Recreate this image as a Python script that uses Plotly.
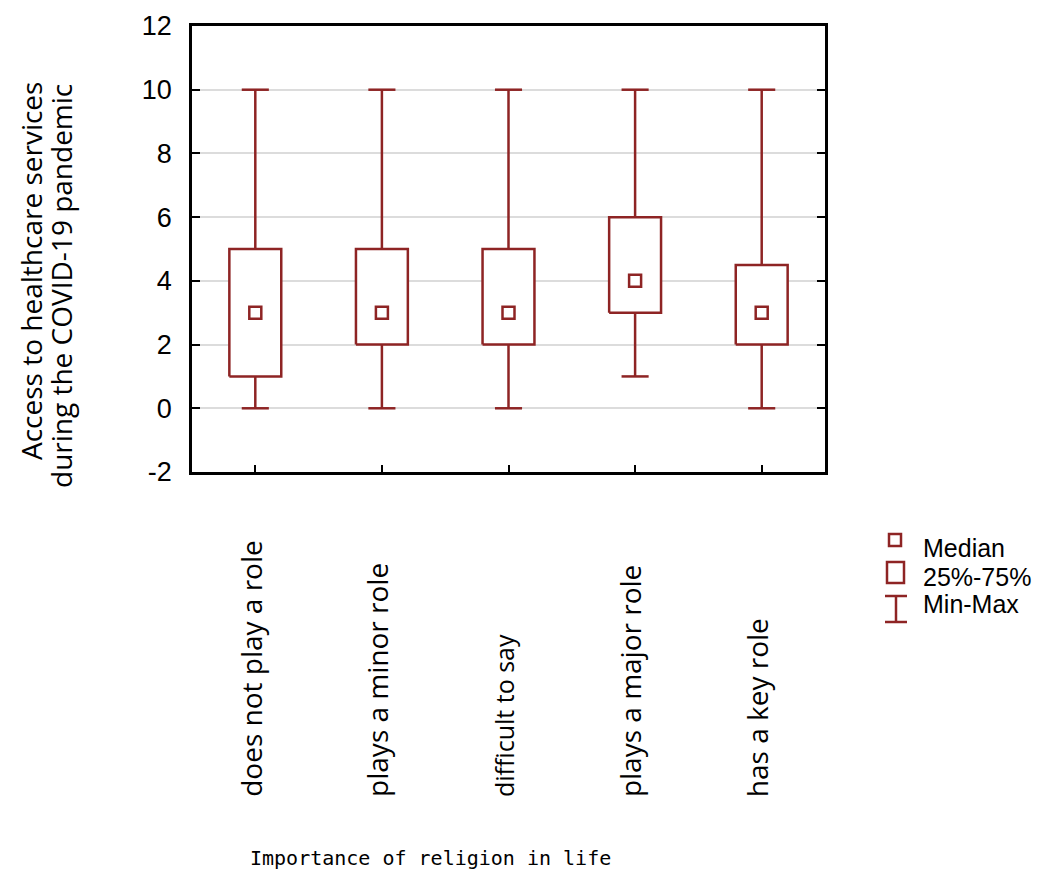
import plotly.graph_objects as go

# Box summary per group
categories = ["does not play a role", "plays a minor role", "difficult to say",
              "plays a major role", "has a key role"]
mins = [0, 0, 0, 1, 0]
q1s = [1, 2, 2, 3, 2]
medians = [3, 3, 3, 4, 3]
q3s = [5, 5, 5, 6, 4.5]
maxs = [10, 10, 10, 10, 10]
y_ticks = [-2, 0, 2, 4, 6, 8, 10, 12]
y_tick_text = ["-2", "0", "2", "4", "6", "8", "10", "12"]

RED = "#8E2424"
LW = 2.5
HALF_BOX = 0.205
HALF_CAP = 0.107

xs = list(range(len(categories)))

# Rectangles for the interquartile range
bx, by = [], []
for i, a, b in zip(xs, q1s, q3s):
    bx += [i - HALF_BOX, i + HALF_BOX, i + HALF_BOX, i - HALF_BOX, i - HALF_BOX, None]
    by += [a, a, b, b, a, None]

# Whiskers with end caps
wx, wy = [], []
for i, lo, a, b, hi in zip(xs, mins, q1s, q3s, maxs):
    wx += [i, i, None, i - HALF_CAP, i + HALF_CAP, None,
           i, i, None, i - HALF_CAP, i + HALF_CAP, None]
    wy += [b, hi, None, hi, hi, None, a, lo, None, lo, lo, None]

fig = go.Figure()
fig.add_trace(go.Scatter(x=wx, y=wy, mode="lines",
                         line=dict(color=RED, width=LW), hoverinfo="skip",
                         showlegend=False))
fig.add_trace(go.Scatter(x=bx, y=by, mode="lines", fill="toself",
                         fillcolor="white",
                         line=dict(color=RED, width=LW), hoverinfo="skip",
                         showlegend=False))
fig.add_trace(go.Scatter(x=xs, y=medians, mode="markers",
                         marker=dict(symbol="square-open", size=12,
                                     color=RED, line=dict(color=RED, width=LW)),
                         showlegend=False))

L, R, T, B = 192, 228, 26, 402
W, H = 1053, 874
pw, ph = W - L - R, H - T - B


def px(x):
    return (x - L) / pw


def py(y):
    return (H - B - y) / ph


annotations = []
# Rotated category labels, reading upward from a common baseline
for i, name in enumerate(categories):
    small = name == "difficult to say"
    annotations.append(dict(
        x=i, xref="x", y=py(799), yref="paper", text=name, textangle=-90,
        showarrow=False, xanchor="center", yanchor="bottom", xshift=-5,
        font=dict(family="Open Sans", size=25 if small else 28, color="black")))

# Axis titles
annotations.append(dict(
    x=px(430), y=py(858), xref="paper", yref="paper",
    text="Importance of religion in life", showarrow=False,
    xanchor="center", yanchor="middle",
    font=dict(family="DejaVu Sans Mono", size=20, color="black")))
for line, xc, yc in [("Access to healthcare services", 31, 271),
                     ("during the COVID-19 pandemic", 61, 286)]:
    annotations.append(dict(
        x=px(xc), y=py(yc), xref="paper", yref="paper",
        text=line, textangle=-90, showarrow=False,
        xanchor="center", yanchor="middle",
        font=dict(family="Open Sans", size=28, color="black")))

# Legend entries
for label, yc in [("Median", 548), ("25%-75%", 577), ("Min-Max", 604)]:
    annotations.append(dict(
        x=px(921), y=py(yc), xref="paper", yref="paper", text=label,
        showarrow=False, xanchor="left", yanchor="middle",
        font=dict(family="Liberation Sans", size=25, color="black")))

shape_line = dict(color=RED, width=LW)
shapes = [
    dict(type="rect", xref="paper", yref="paper",
         x0=px(889), x1=px(901), y0=py(546), y1=py(534), line=shape_line),
    dict(type="rect", xref="paper", yref="paper",
         x0=px(887), x1=px(904), y0=py(583), y1=py(562), line=shape_line),
    dict(type="line", xref="paper", yref="paper",
         x0=px(896), x1=px(896), y0=py(622), y1=py(596), line=shape_line),
    dict(type="line", xref="paper", yref="paper",
         x0=px(885), x1=px(907), y0=py(596), y1=py(596), line=shape_line),
    dict(type="line", xref="paper", yref="paper",
         x0=px(885), x1=px(907), y0=py(622), y1=py(622), line=shape_line),
]

fig.update_layout(
    width=W, height=H,
    margin=dict(l=L, r=R, t=T, b=B),
    paper_bgcolor="white", plot_bgcolor="white",
    showlegend=False,
    annotations=annotations,
    shapes=shapes,
    xaxis=dict(range=[-0.5, 4.5], tickvals=xs, showticklabels=False,
               ticks="inside", ticklen=7, tickwidth=2, tickcolor="black",
               showgrid=False, zeroline=False, showline=True,
               linecolor="black", linewidth=2.5, mirror=True),
    yaxis=dict(range=[-2, 12], tickvals=y_ticks, ticktext=y_tick_text,
               ticks="inside", ticklen=8, tickwidth=2, tickcolor="black",
               ticklabelstandoff=12,
               showgrid=True, gridcolor="#dcdcdc", gridwidth=2,
               zeroline=False, showline=True, linecolor="black",
               linewidth=2.5, mirror="ticks",
               tickfont=dict(family="Liberation Sans", size=27, color="black")),
)

fig.write_html("out.html")
